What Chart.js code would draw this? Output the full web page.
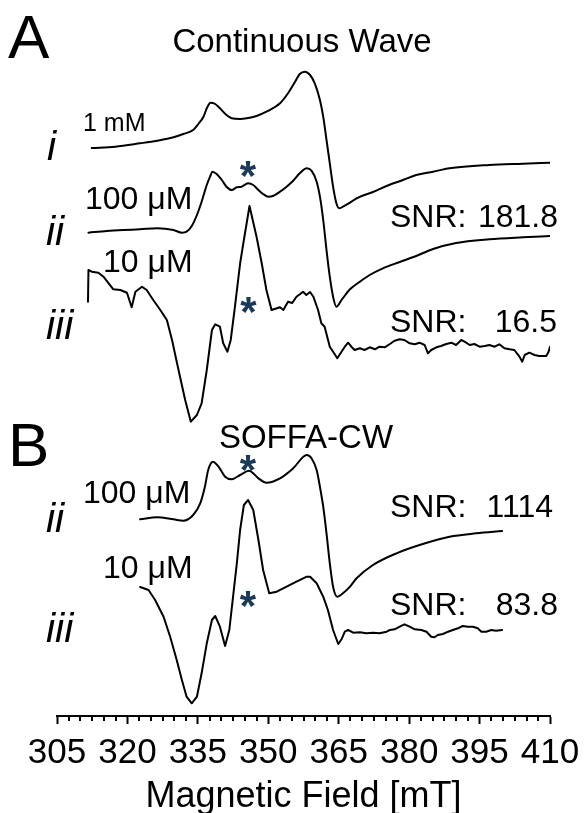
<!DOCTYPE html>
<html>
<head>
<meta charset="utf-8">
<script src="https://cdn.jsdelivr.net/npm/chart.js@4.4.1/dist/chart.umd.min.js"></script>
<style>
  html, body { margin: 0; padding: 0; background: #ffffff; }
  #c { display: block; }
</style>
</head>
<body>
<canvas id="c" width="584" height="813"></canvas>
<script>
// ---------- DATA (magnetic field in mT, intensity in arbitrary units) ----------
const fieldTicks = [305, 320, 335, 350, 365, 380, 395, 410];

// A-i : Continuous Wave, 1 mM
const cw1mM_field = [312.4, 317.4, 322.7, 326.3, 329.8, 331.9, 334.0, 335.1, 336.2, 336.9, 337.7, 338.7, 339.7, 341.1, 342.2, 344.0, 345.4, 347.5, 349.6, 352.5, 354.2, 355.7, 356.7, 357.8, 358.9, 359.9, 361.0, 361.7, 362.4, 363.1, 363.8, 364.5, 365.1, 365.9, 367.4, 368.8, 372.3, 375.2, 378.7, 381.5, 385.1, 388.6, 397.1, 404.2, 410.0];
const cw1mM_int   = [0, 1.3, 4.7, 7.3, 10.7, 14, 18, 24, 31.3, 39.7, 45.3, 44, 39.7, 33, 29.7, 29, 29.7, 32, 36.3, 44.7, 54.7, 66.3, 74, 76.3, 73, 64.7, 48, 31.3, 8, -15.3, -38.7, -55.3, -60.3, -58.7, -54.7, -50.3, -44, -38, -32, -27, -23.7, -20.3, -17, -15.7, -14.7];

// A-ii : Continuous Wave, 100 uM
const cw100_field = [311.7, 315.6, 319.2, 322.7, 326.3, 329.8, 331.6, 332.6, 333.7, 334.8, 335.8, 336.9, 337.6, 338.1, 339.0, 340.1, 341.1, 342.2, 343.3, 344.3, 345.7, 346.8, 347.9, 348.9, 350.0, 351.1, 352.5, 353.9, 355.3, 356.7, 358.2, 359.2, 360.3, 361.0, 361.7, 362.4, 363.1, 363.8, 364.5, 365.6, 367.4, 369.5, 371.6, 374.4, 378.0, 381.5, 385.1, 390.0, 397.1, 404.2, 410.0];
const cw100_int   = [-0.7, 1, 2, 2.7, 3.7, 2, -0.7, 0.3, 6, 17, 30.3, 47, 55.3, 60.3, 58, 52, 45.3, 42, 44.7, 45.3, 48.7, 47, 42, 38, 35.3, 36.3, 40.3, 45.3, 51.3, 58.7, 63.7, 61.3, 50.3, 35.3, 12, -18, -44.7, -64.7, -74.7, -68, -57.3, -49.7, -43, -36.3, -30, -24, -17, -11, -7.3, -5.3, -4];

// A-iii : Continuous Wave, 10 uM
const cw10_field = [311.6, 311.7, 312.4, 313.8, 314.9, 316.0, 317.0, 318.5, 319.9, 320.9, 321.7, 323.1, 324.1, 325.5, 327.0, 328.4, 329.5, 330.5, 331.2, 332.3, 333.5, 334.8, 335.8, 336.9, 338.0, 338.7, 339.7, 340.4, 341.3, 342.0, 342.9, 344.0, 344.8, 346.0, 347.5, 348.6, 349.6, 350.7, 352.5, 353.2, 354.2, 355.1, 356.0, 356.8, 357.4, 358.1, 358.9, 359.6, 360.6, 361.3, 362.0, 363.1, 364.7, 365.6, 366.3, 367.0, 367.7, 368.4, 369.5, 370.5, 371.6, 372.7, 373.7, 374.8, 375.9, 376.9, 378.0, 379.0, 380.1, 381.2, 382.2, 383.3, 384.0, 384.7, 385.8, 386.8, 387.9, 389.0, 390.0, 391.1, 391.8, 392.9, 393.9, 395.0, 396.1, 397.1, 398.2, 399.2, 400.3, 401.4, 402.4, 403.5, 404.1, 404.6, 405.6, 406.7, 407.7, 409.2, 409.7, 410.0];
const cw10_int   = [-1.7, 30, 28.3, 27.3, 23.3, 16.7, 10.7, 10, 7.3, -7.3, 8.3, 13.3, 10, 0, -10, -20, -40, -61.7, -76.7, -100, -121.7, -115, -103.3, -70, -30, -24.3, -26.7, -43.3, -51.7, -40, -6.7, 36.7, 60, 94, 63.3, 36.7, 10, -10, -7.3, -10, -1.7, -3, 3.3, 6, 8.3, 5, 8, 3.3, -10, -23.3, -26.7, -46.7, -58.3, -51.7, -46.7, -42.7, -46.7, -50, -48.3, -50, -47.3, -49.3, -46.7, -47.3, -44, -40.7, -39.3, -40, -43.3, -44.3, -42.7, -45, -53.3, -50, -47.3, -46, -44, -42.7, -45, -40, -41.7, -45, -44, -46.7, -46, -45, -46.7, -44.3, -48.3, -49.3, -50, -56.7, -61.7, -55, -52.7, -55, -56, -56, -51.7, -46.7];

// B-ii : SOFFA-CW, 100 uM
const sof100_field = [322.7, 326.3, 329.8, 331.9, 334.0, 335.5, 336.5, 337.2, 338.2, 339.4, 340.8, 342.2, 344.0, 345.9, 347.9, 349.6, 352.5, 355.3, 358.2, 359.2, 360.3, 361.0, 361.7, 362.4, 363.1, 363.8, 364.7, 365.9, 367.4, 368.8, 372.3, 377.3, 382.9, 388.6, 394.3, 399.8];
const sof100_int   = [-0.3, 1.7, -0.3, -1.7, 4, 15.7, 32.3, 49, 57.3, 52.3, 42.3, 39.7, 44, 48.3, 40.7, 36.3, 40.7, 50.7, 64, 60.7, 49, 32.3, 12.3, -14.3, -44.3, -67.7, -77.7, -74.3, -67.7, -59.3, -46, -34.3, -25, -17.7, -14.3, -12];

// B-iii : SOFFA-CW, 10 uM
const sof10_field = [322.7, 324.5, 325.9, 327.7, 329.1, 330.5, 331.6, 332.6, 333.7, 334.8, 335.8, 336.9, 338.0, 338.7, 339.7, 340.8, 341.7, 342.5, 343.3, 344.0, 344.8, 345.7, 346.8, 347.9, 348.9, 350.2, 351.8, 353.9, 356.0, 358.2, 358.9, 360.3, 361.7, 362.7, 363.8, 364.9, 365.6, 366.3, 367.0, 368.1, 369.5, 370.9, 372.3, 373.7, 375.2, 375.9, 376.9, 378.0, 379.0, 380.1, 381.2, 382.6, 383.7, 384.7, 385.4, 386.1, 387.2, 388.3, 389.3, 390.4, 391.4, 392.5, 393.6, 394.6, 395.4, 396.4, 397.5, 398.5, 399.8];
const sof10_int   = [0, -3, -13, -29.7, -49.7, -73, -93, -109.7, -116.3, -109.7, -86.3, -56.3, -33, -29, -39.7, -59, -43, -9.7, 23.7, 57, 82, 87, 77, 47, 17, -6.3, -4.7, 0.3, 5.3, 10.3, 10.3, 3.7, -9.7, -23, -43, -57, -52.3, -44.7, -43, -45.7, -45.3, -46.3, -45.7, -46.3, -44.7, -43, -42.3, -39.7, -37.3, -39.7, -42.3, -43, -44.7, -49.7, -50.3, -48, -47, -44.7, -43, -41.3, -39, -39.7, -39.7, -41.3, -44.7, -44.7, -43, -43.7, -43];

// labels
const traceNames = ['A-i 1 mM', 'A-ii 100 µM', 'A-iii 10 µM', 'B-ii 100 µM', 'B-iii 10 µM'];
const snrValues  = ['181.8', '16.5', '1114', '83.8'];

// ---------- LAYOUT (stacking offsets, a.u.) ----------
const stackOffsets = [568, 484, 416, 197, 129];
const Y_MAX = 716;

function series(fields, ints, off) {
  return fields.map((f, i) => ({ x: f, y: ints[i] + off }));
}

const FONT = "'Liberation Sans', Arial, Helvetica, sans-serif";
const series5 = [
  [cw1mM_field, cw1mM_int, true],
  [cw100_field, cw100_int, true],
  [cw10_field, cw10_int, false],
  [sof100_field, sof100_int, true],
  [sof10_field, sof10_int, false]
];

const datasets = series5.map((s, k) => ({
  label: traceNames[k],
  data: series(s[0], s[1], stackOffsets[k]),
  borderColor: '#000000',
  borderWidth: 2,
  pointRadius: 0,
  fill: false,
  cubicInterpolationMode: s[2] ? 'monotone' : 'default',
  tension: s[2] ? 0.4 : 0,
  borderJoinStyle: 'round',
  borderCapStyle: 'round'
}));

const minorTicks = {
  id: 'minorTicks',
  afterDraw(chart) {
    const xs = chart.scales.x;
    const ctx = chart.ctx;
    const y0 = chart.chartArea.bottom;
    ctx.save();
    ctx.strokeStyle = '#000';
    ctx.lineWidth = 2;
    for (let v = 305; v <= 410.001; v += 2.5) {
      if (Math.abs(((v - 305) / 15) - Math.round((v - 305) / 15)) < 1e-6) continue;
      const px = Math.round(xs.getPixelForValue(v)) ;
      ctx.beginPath();
      ctx.moveTo(px, y0);
      ctx.lineTo(px, y0 + 5);
      ctx.stroke();
    }
    ctx.restore();
  }
};

const annotations = {
  id: 'annotations',
  afterDraw(chart) {
    const ctx = chart.ctx;
    ctx.save();
    ctx.fillStyle = '#000';
    ctx.textBaseline = 'alphabetic';
    const t = (s, x, y, size, align, style, color) => {
      ctx.font = (style || '') + ' ' + size + 'px ' + FONT;
      ctx.textAlign = align || 'left';
      ctx.fillStyle = color || '#000';
      ctx.fillText(s, x, y);
    };
    // panel letters
    t('A', 8, 58, 62);
    t('B', 8, 466, 62);
    // panel titles
    t('Continuous Wave', 302, 52, 33, 'center');
    t('SOFFA-CW', 306, 448, 33, 'center');
    // concentration labels
    t('1 mM', 83, 131, 25);
    t('100 \u03bcM', 85, 209, 32);
    t('10 \u03bcM', 103, 272, 32);
    t('100 \u03bcM', 83, 503, 32);
    t('10 \u03bcM', 103, 578, 32);
    // roman numerals
    t('i', 47, 160, 41, 'left', 'italic');
    t('ii', 46, 245, 41, 'left', 'italic');
    t('iii', 46, 339, 41, 'left', 'italic');
    t('ii', 46, 532, 41, 'left', 'italic');
    t('iii', 46, 642, 41, 'left', 'italic');
    // SNR
    const snrY = [227, 332, 517, 615];
    const snrR = [558, 557, 553, 558];
    snrY.forEach((y, i) => {
      t('SNR:', 390, y, 32);
      t(snrValues[i], snrR[i], y, 32, 'right');
    });
    // asterisks
    const star = '#1c3a57';
    [[248, 166], [248.5, 302], [248, 460], [248, 596]].forEach(p => {
      t('*', p[0], p[1] + 24, 42, 'center', 'bold', star);
    });
    ctx.restore();
  }
};

new Chart(document.getElementById('c'), {
  type: 'line',
  data: { datasets },
  options: {
    responsive: false,
    animation: false,
    devicePixelRatio: 1,
    parsing: true,
    layout: { padding: { left: 57, right: 34, top: 0, bottom: 0 } },
    plugins: { legend: { display: false }, tooltip: { enabled: false }, title: { display: false } },
    scales: {
      x: {
        type: 'linear',
        position: 'bottom',
        min: fieldTicks[0],
        max: fieldTicks[fieldTicks.length - 1],
        afterFit(scale) { scale.height = 97; scale.paddingLeft = 0; scale.paddingRight = 0; },
        afterBuildTicks(scale) { scale.ticks = fieldTicks.map(v => ({ value: v })); },
        grid: { display: true, drawOnChartArea: false, drawTicks: true, tickLength: 8, tickWidth: 2, tickColor: '#000' },
        border: { display: true, color: '#000', width: 2 },
        ticks: {
          autoSkip: false, maxRotation: 0, minRotation: 0, padding: 8,
          color: '#000', font: { family: FONT, size: 35 },
          callback: v => String(v)
        },
        title: { display: true, text: 'Magnetic Field [mT]', color: '#000', font: { family: FONT, size: 36, lineHeight: 0.9 }, padding: { top: 0, bottom: 0 } }
      },
      y: { type: 'linear', display: false, min: 0, max: Y_MAX }
    }
  },
  plugins: [minorTicks, annotations]
});
</script>
</body>
</html>
